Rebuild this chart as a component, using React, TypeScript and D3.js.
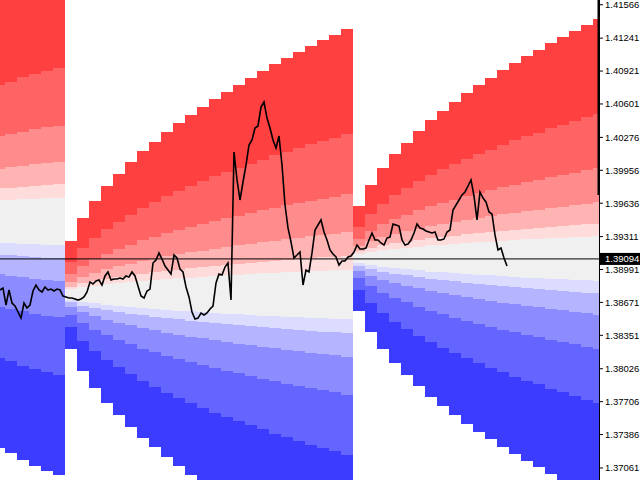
import * as d3 from 'd3';

const W = 640;
const H = 480;
const PLOT_W = 600;

// visible price range of the chart window
const PRICE_MIN = 1.36944;
const PRICE_MAX = 1.41612;

// labels printed on the price scale
const TICKS = [
  1.41566, 1.41241, 1.40921, 1.40601, 1.40276, 1.39956, 1.39636, 1.39311, 1.38991, 1.38671, 1.38351,
  1.38026, 1.37706, 1.37386, 1.37061,
];
const LAST_PRICE = 1.39094;

// closes, one every 15 minutes from the left edge of the window
const CLOSE_STEP_MIN = 15;
const CLOSES = [
  1.38792, 1.38811, 1.38646, 1.38792, 1.38665, 1.38636, 1.38578, 1.38519, 1.38665, 1.38617, 1.38646,
  1.38782, 1.3884, 1.38792, 1.38772, 1.38821, 1.38792, 1.38801, 1.38782, 1.38801, 1.38792, 1.38733,
  1.38724, 1.38714, 1.38714, 1.38704, 1.38694, 1.38704, 1.38724, 1.38772, 1.3887, 1.3885, 1.38879,
  1.38889, 1.3884, 1.38928, 1.38967, 1.38889, 1.38899, 1.38899, 1.38908, 1.38899, 1.38928, 1.38918,
  1.38967, 1.38928, 1.38831, 1.38733, 1.38714, 1.38782, 1.38801, 1.39054, 1.39084, 1.39152, 1.39093,
  1.39025, 1.38986, 1.38947, 1.39132, 1.39103, 1.38996, 1.38967, 1.38821, 1.38724, 1.38578, 1.3851,
  1.38519, 1.38568, 1.38549, 1.38568, 1.38607, 1.38636, 1.3886, 1.38947, 1.38938, 1.39015, 1.39054,
  1.38694, 1.40134, 1.39862, 1.39667, 1.39842, 1.40007, 1.40202, 1.40251, 1.40367, 1.40387, 1.40571,
  1.4062, 1.40464, 1.40367, 1.40251, 1.40173, 1.40289, 1.40007, 1.39618, 1.39395, 1.39259, 1.39103,
  1.39132, 1.39161, 1.3884, 1.38986, 1.38967, 1.39152, 1.39375, 1.39424, 1.39473, 1.39356, 1.39278,
  1.39181, 1.39142, 1.39113, 1.39035, 1.39074, 1.39074, 1.39113, 1.39122, 1.39161, 1.39229, 1.39191,
  1.39191, 1.392, 1.39278, 1.39346, 1.39278, 1.39278, 1.39249, 1.39229, 1.39297, 1.39307, 1.39434,
  1.39424, 1.39414, 1.39278, 1.39229, 1.39239, 1.39278, 1.39346, 1.39434, 1.39395, 1.39385, 1.39366,
  1.39356, 1.39346, 1.39356, 1.39278, 1.39278, 1.39288, 1.39356, 1.39375, 1.3957, 1.39618, 1.39667,
  1.39716, 1.39745, 1.39803, 1.39862, 1.39706, 1.39473, 1.39745, 1.39686, 1.39648, 1.3955, 1.39531,
  1.39327, 1.39181, 1.392, 1.39103, 1.39025,
];

// zone colours, top (strong red) to bottom (strong blue)
const BAND_COLORS = [
  '#ff4040', '#ff6464', '#ff8c8c', '#ffb4b4', '#ffdcdc', '#f0f0f0',
  '#dcdcff', '#b4b4ff', '#8c8cff', '#6464ff', '#3c3cff',
];
// zone edges as a share of the outer half-width
const BAND_EDGES = [0.094, 0.146, 0.234, 0.377, 0.604, 1];

// cones: minute of the first drawn step, centre price, outer half-width of each hourly step
const STEP_MIN = 60;
const CONE_STARTS = [-35, 325, 1765];
const CONE_CENTERS = [1.39458, 1.38748, 1.39098];
const CONE1_SPANS = [0.02202, 0.02251, 0.02319, 0.02377, 0.02426, 0.02465];
const CONE2_SPANS = [
  0.00525, 0.00744, 0.00909, 0.01055, 0.01172, 0.01288, 0.01395, 0.01483, 0.0158, 0.01663, 0.0175,
  0.01823, 0.01901, 0.01969, 0.02037, 0.02105, 0.02173, 0.02241, 0.023, 0.02358, 0.02416, 0.02475,
  0.02523, 0.02582,
];
const CONE3_SPANS = [
  0.00511, 0.00715, 0.0088, 0.01016, 0.01128, 0.0124, 0.01347, 0.01434, 0.01522, 0.01609, 0.01687,
  0.01755, 0.01833, 0.01901, 0.01969, 0.02027, 0.02095, 0.02154, 0.02212, 0.02271, 0.02329,
];

const FONT = '"Liberation Sans", Arial, sans-serif';

const App = (): React.ReactElement => {
  const x = d3.scaleLinear().domain([0, 3000]).range([0, PLOT_W]);
  const y = d3.scaleLinear().domain([PRICE_MIN, PRICE_MAX]).range([H, 0]);

  const edges = [...BAND_EDGES].reverse().concat(BAND_EDGES.map((e) => -e));
  const cones = [CONE1_SPANS, CONE2_SPANS, CONE3_SPANS];

  const rects: React.ReactElement[] = [];
  cones.forEach((spans, c) => {
    spans.forEach((s, j) => {
      const x0 = x(CONE_STARTS[c] + j * STEP_MIN);
      const x1 = x(CONE_STARTS[c] + (j + 1) * STEP_MIN);
      BAND_COLORS.forEach((col, k) => {
        const top = y(CONE_CENTERS[c] + s * edges[k]);
        const bot = y(CONE_CENTERS[c] + s * edges[k + 1]);
        rects.push(
          <rect
            key={`${c}-${j}-${k}`}
            x={x0}
            y={top}
            width={x1 - x0 + 0.3}
            height={bot - top + 0.3}
            fill={col}
          />,
        );
      });
    });
  });

  const line = d3
    .line<number>()
    .x((_, i) => x(i * CLOSE_STEP_MIN))
    .y((d) => y(d));

  const yLast = y(LAST_PRICE);

  return (
    <>
      <style>{'body{margin:0}'}</style>
      <svg width={W} height={H} style={{ display: 'block', background: '#fff' }}>
        <defs>
          <clipPath id="plot">
            <rect x={0} y={0} width={PLOT_W} height={H} />
          </clipPath>
        </defs>
        <g clipPath="url(#plot)" shapeRendering="crispEdges">
          {rects}
        </g>
        <line x1={0} x2={PLOT_W} y1={yLast} y2={yLast} stroke="#000" strokeWidth={1} />
        <path d={line(CLOSES) ?? ''} fill="none" stroke="#000" strokeWidth={1.6} strokeLinejoin="miter" />

        <rect x={PLOT_W} y={0} width={W - PLOT_W} height={H} fill="#fff" />
        <rect x={597.5} y={0} width={2.5} height={195} fill="#000" />
        <line x1={599.5} x2={599.5} y1={0} y2={H} stroke="#000" strokeWidth={1} />
        {TICKS.map((t) => (
          <g key={t} transform={`translate(0,${y(t)})`}>
            <line x1={600} x2={603} y1={0} y2={0} stroke="#000" />
            <text x={605} y={0} dy="0.35em" fontFamily={FONT} fontSize={9.5} fill="#000">
              {t.toFixed(5)}
            </text>
          </g>
        ))}
        <rect x={600} y={yLast - 6} width={40} height={12} fill="#000" />
        <text x={605} y={yLast} dy="0.35em" fontFamily={FONT} fontSize={9.5} fill="#fff">
          {LAST_PRICE.toFixed(5)}
        </text>
      </svg>
    </>
  );
};

export default App;
